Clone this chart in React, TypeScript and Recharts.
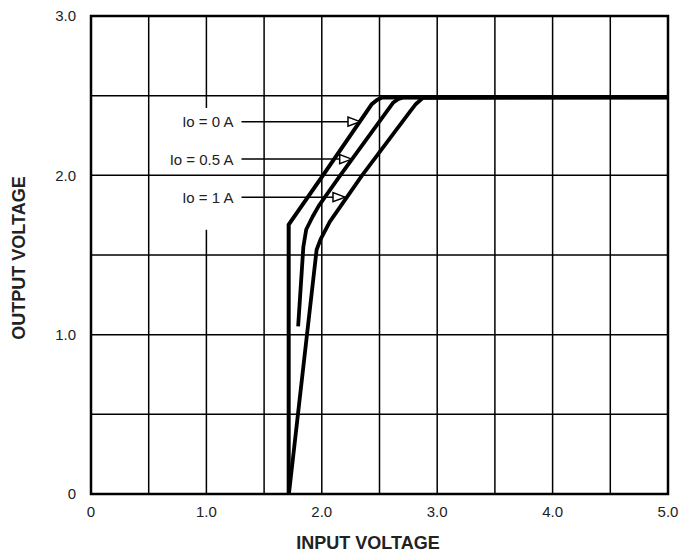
import { ComposedChart, Line, Scatter, XAxis, YAxis, ReferenceLine, ReferenceArea } from 'recharts';

const FONT = '"Liberation Sans", Arial, sans-serif';

// curves: [input voltage, output voltage]
const io0 = [
  [1.713, 0], [1.713, 1.69], [2.01, 2.0], [2.435, 2.448], [2.478, 2.473], [2.522, 2.489], [5, 2.49],
];
const io05 = [
  [1.795, 1.052], [1.84, 1.55], [1.865, 1.66], [1.92, 1.74], [1.975, 1.81], [2.157, 1.997],
  [2.617, 2.455], [2.66, 2.478], [2.704, 2.489], [5, 2.49],
];
const io1 = [
  [1.715, 0], [1.955, 1.533], [1.99, 1.6], [2.07, 1.71], [2.346, 1.997], [2.764, 2.4],
  [2.816, 2.448], [2.876, 2.486], [5, 2.49],
];

const curveLabels = ['Io = 0 A', 'Io = 0.5 A', 'Io = 1 A'];
const arrowY = [2.337, 2.102, 1.863];
const arrowTipX = [2.331, 2.259, 2.201];
const arrowStartX = 1.304;

const xTicks = [0, 1, 2, 3, 4, 5];
const yTicks = [0, 1, 2, 3];
const gridX = [0.5, 1.5, 2, 2.5, 3, 3.5, 4, 4.5];
const gridY = [0.5, 1, 1.5, 2, 2.5];
// the 1.0 V grid line is interrupted behind the labels
const gridXBroken = 1;
const gridXBrokenParts = [[0, 1.658], [2.423, 3]];

const toPts = (arr: number[][]) => arr.map(([x, y]) => ({ x, y }));
const fmt = (v: number) => (v === 0 ? '0' : v.toFixed(1));

const labelPts = curveLabels.map((label, i) => ({ x: arrowStartX, y: arrowY[i], label }));
const tipPts = arrowTipX.map((x, i) => ({ x, y: arrowY[i] }));

const ARROW_LEN = 12;
const ARROW_HALF = 4.5;

function LabelShape(props: any) {
  const { cx, cy, payload } = props;
  return (
    <text x={cx - 8} y={cy} textAnchor="end" dominantBaseline="central" fontSize={15} fontFamily={FONT} fill="#222">
      {payload.label}
    </text>
  );
}

function ArrowShape(props: any) {
  const { cx, cy } = props;
  return (
    <polygon
      points={`${cx},${cy} ${cx - ARROW_LEN},${cy - ARROW_HALF} ${cx - ARROW_LEN},${cy + ARROW_HALF}`}
      fill="#fff"
      stroke="#000"
      strokeWidth={1.5}
      strokeLinejoin="miter"
    />
  );
}

export default function App() {
  const tickStyle = { fontSize: 15, fontFamily: FONT, fill: '#222' };
  return (
    <div style={{ position: 'absolute', left: 0, top: 0, width: 696, height: 558, background: '#fff' }}>
      <ComposedChart width={696} height={558} margin={{ top: 16, right: 28, bottom: 0, left: 0 }}>
        <XAxis
          type="number"
          dataKey="x"
          domain={[0, 5]}
          ticks={xTicks}
          tickFormatter={fmt}
          axisLine={false}
          tickLine={false}
          tickSize={0}
          tickMargin={12}
          height={64}
          tick={tickStyle}
          allowDataOverflow
        />
        <YAxis
          type="number"
          dataKey="y"
          domain={[0, 3]}
          ticks={yTicks}
          tickFormatter={fmt}
          axisLine={false}
          tickLine={false}
          tickSize={0}
          tickMargin={15}
          width={91}
          tick={tickStyle}
          allowDataOverflow
        />
        {gridX.map((v) => (
          <ReferenceLine key={'gx' + v} x={v} stroke="#000" strokeWidth={1.5} />
        ))}
        {gridXBrokenParts.map(([a, b]) => (
          <ReferenceLine
            key={'gb' + a}
            segment={[{ x: gridXBroken, y: a }, { x: gridXBroken, y: b }]}
            stroke="#000"
            strokeWidth={1.5}
          />
        ))}
        {gridY.map((v) => (
          <ReferenceLine key={'gy' + v} y={v} stroke="#000" strokeWidth={1.5} />
        ))}
        <ReferenceArea x1={0} x2={5} y1={0} y2={3} fill="none" stroke="#000" strokeWidth={2.5} fillOpacity={0} />
        {arrowTipX.map((x, i) => (
          <ReferenceLine
            key={'ar' + i}
            segment={[{ x: arrowStartX, y: arrowY[i] }, { x: x - 0.1, y: arrowY[i] }]}
            stroke="#000"
            strokeWidth={1.5}
          />
        ))}
        <Line data={toPts(io0)} dataKey="y" type="linear" stroke="#000" strokeWidth={4} dot={false} strokeLinejoin="round" isAnimationActive={false} />
        <Line data={toPts(io05)} dataKey="y" type="linear" stroke="#000" strokeWidth={3.8} dot={false} strokeLinejoin="round" isAnimationActive={false} />
        <Line data={toPts(io1)} dataKey="y" type="linear" stroke="#000" strokeWidth={3.8} dot={false} strokeLinejoin="round" isAnimationActive={false} />
        <Scatter data={tipPts} dataKey="y" shape={ArrowShape} isAnimationActive={false} />
        <Scatter data={labelPts} dataKey="y" shape={LabelShape} isAnimationActive={false} />
      </ComposedChart>
      <svg width={696} height={558} style={{ position: 'absolute', left: 0, top: 0, pointerEvents: 'none' }}>
        <text x={368} y={543} textAnchor="middle" dominantBaseline="central" fontSize={18} fontWeight="bold" fontFamily={FONT} fill="#222">
          INPUT VOLTAGE
        </text>
        <text
          x={19}
          y={258}
          textAnchor="middle"
          dominantBaseline="central"
          fontSize={18}
          fontWeight="bold"
          fontFamily={FONT}
          fill="#222"
          transform="rotate(-90 19 258)"
        >
          OUTPUT VOLTAGE
        </text>
      </svg>
    </div>
  );
}
